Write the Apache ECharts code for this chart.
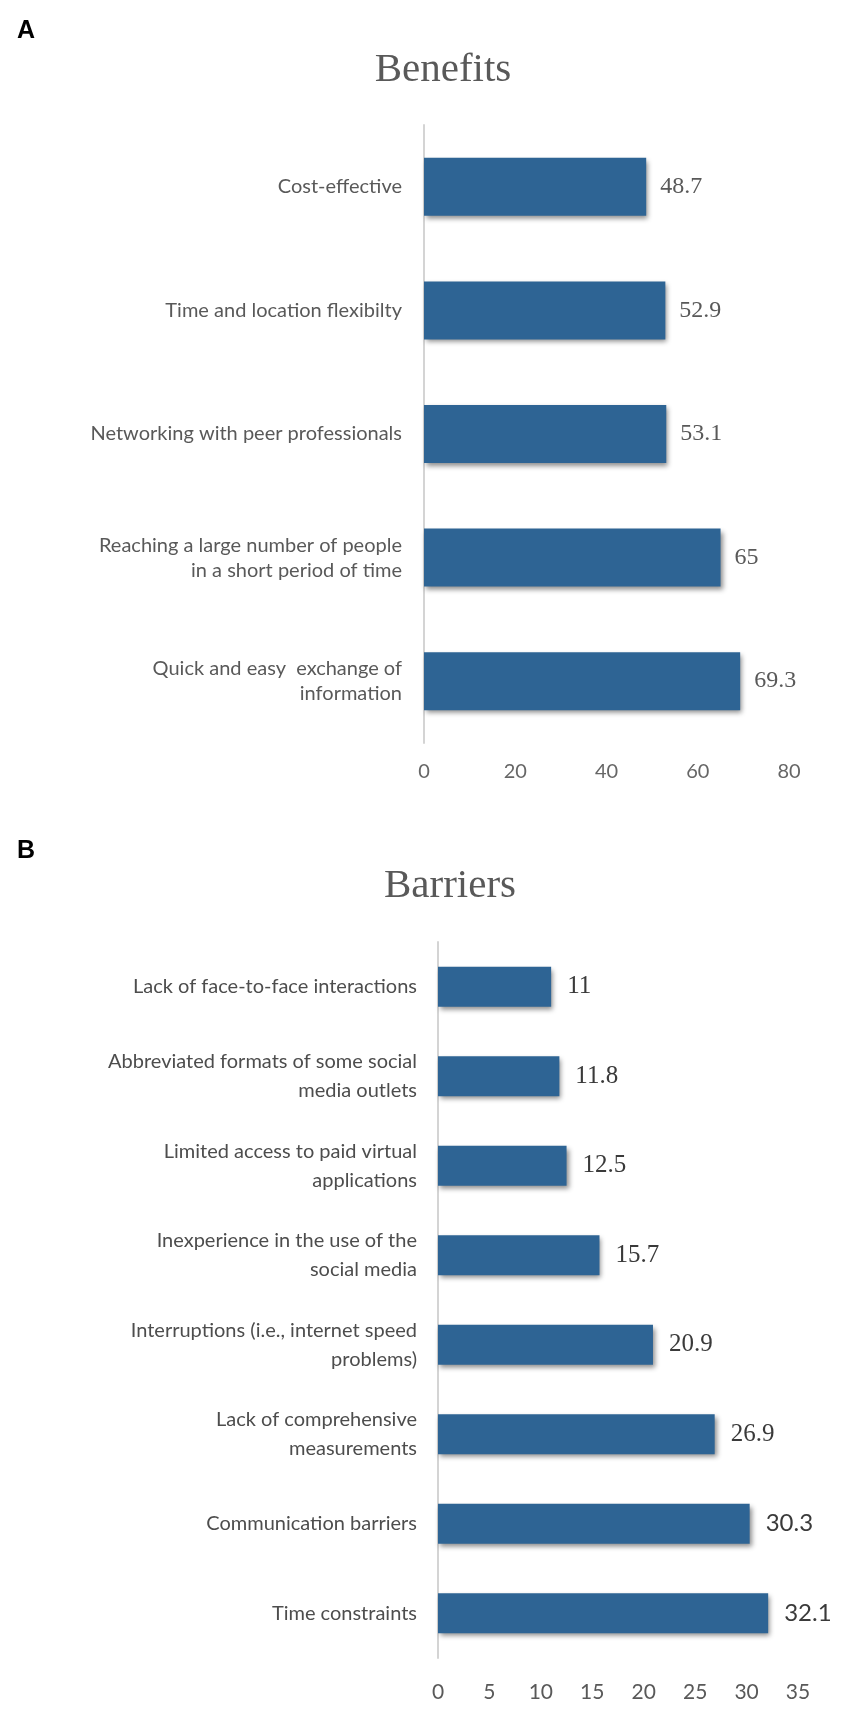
<!DOCTYPE html>
<html>
<head>
<meta charset="utf-8">
<script src="https://cdn.jsdelivr.net/npm/echarts@6/dist/echarts.min.js"></script>
<style>
  html, body { margin: 0; padding: 0; background: #fff; }
  #chart { width: 854px; height: 1712px; }
</style>
</head>
<body>
<div id="chart"></div>
<script>
// A: benefits
const benefitCats = [
  'Cost-effective',
  'Time and location flexibilty',
  'Networking with peer professionals',
  'Reaching a large number of people\nin a short period of time',
  'Quick and easy  exchange of\ninformation'
];
const benefitVals = [48.7, 52.9, 53.1, 65, 69.3];
const benefitTicks = [0, 20, 40, 60, 80];

// B: barriers
const barrierCats = [
  'Lack of face-to-face interactions',
  'Abbreviated formats of some social\nmedia outlets',
  'Limited access to paid virtual\napplications',
  'Inexperience in the use of the\nsocial media',
  'Interruptions (i.e., internet speed\nproblems)',
  'Lack of comprehensive\nmeasurements',
  'Communication barriers',
  'Time constraints'
];
const barrierVals = [11, 11.8, 12.5, 15.7, 20.9, 26.9, 30.3, 32.1];
const barrierTicks = [0, 5, 10, 15, 20, 25, 30, 35];

const barColor = '#2e6494';
const barShadow = {
  color: barColor,
  shadowColor: 'rgba(0,0,0,0.45)',
  shadowBlur: 5,
  shadowOffsetX: 2,
  shadowOffsetY: 3
};

const chart = echarts.init(document.getElementById('chart'));

const option = {
  backgroundColor: '#fff',
  animation: false,
  title: [
    { text: 'A', left: 12, top: 14, textStyle: { fontFamily: 'Liberation Sans', fontWeight: 'bold', fontSize: 25, color: '#000' } },
    { text: 'Benefits', left: 438, top: 45, textAlign: 'center',
      textStyle: { fontFamily: 'Liberation Serif', fontWeight: 'normal', fontSize: 41, color: '#595959' } },
    { text: 'B', left: 12, top: 834, textStyle: { fontFamily: 'Liberation Sans', fontWeight: 'bold', fontSize: 25, color: '#000' } },
    { text: 'Barriers', left: 445, top: 861, textAlign: 'center',
      textStyle: { fontFamily: 'Liberation Serif', fontWeight: 'normal', fontSize: 41, color: '#595959' } }
  ],
  grid: [
    { left: 424, top: 125, width: 365, height: 618 },
    { left: 438, top: 942, width: 360, height: 716 }
  ],
  xAxis: [
    {
      gridIndex: 0, type: 'value', min: 0, max: 80, interval: 20,
      axisLine: { show: false }, axisTick: { show: false }, splitLine: { show: false },
      axisLabel: { margin: 19, fontFamily: 'Lato', fontSize: 20, color: '#666',
        formatter: v => benefitTicks.includes(v) ? String(v) : '' }
    },
    {
      gridIndex: 1, type: 'value', min: 0, max: 35, interval: 5,
      axisLine: { show: false }, axisTick: { show: false }, splitLine: { show: false },
      axisLabel: { margin: 24, fontFamily: 'Lato', fontSize: 21, color: '#595959',
        formatter: v => barrierTicks.includes(v) ? String(v) : '' }
    }
  ],
  yAxis: [
    {
      gridIndex: 0, type: 'category', inverse: true, data: benefitCats,
      axisLine: { show: true, lineStyle: { color: '#d4d4d4', width: 2 } },
      axisTick: { show: false },
      axisLabel: { margin: 22, fontFamily: 'Lato', fontSize: 20, lineHeight: 25, color: '#595959', align: 'right' }
    },
    {
      gridIndex: 1, type: 'category', inverse: true, data: barrierCats,
      axisLine: { show: true, lineStyle: { color: '#d4d4d4', width: 2 } },
      axisTick: { show: false },
      axisLabel: { margin: 21, fontFamily: 'Lato', fontSize: 20, lineHeight: 29, color: '#4d4d4d', align: 'right' }
    }
  ],
  series: [
    {
      type: 'bar', xAxisIndex: 0, yAxisIndex: 0, data: benefitVals,
      barWidth: 58, itemStyle: barShadow,
      label: { show: true, position: 'right', distance: 14,
        fontFamily: 'Liberation Serif', fontSize: 24, color: '#595959' }
    },
    {
      type: 'bar', xAxisIndex: 1, yAxisIndex: 1,
      data: barrierVals.map((v, i) => ({
        value: v,
        // the last two labels are set in a sans face in the source figure
        label: i >= 6 ? { fontFamily: 'Lato', fontSize: 24 } : {}
      })),
      barWidth: 40, itemStyle: barShadow,
      label: { show: true, position: 'right', distance: 16,
        fontFamily: 'Liberation Serif', fontSize: 25, color: '#3a3a3a' }
    }
  ]
};

chart.setOption(option);
</script>
</body>
</html>
